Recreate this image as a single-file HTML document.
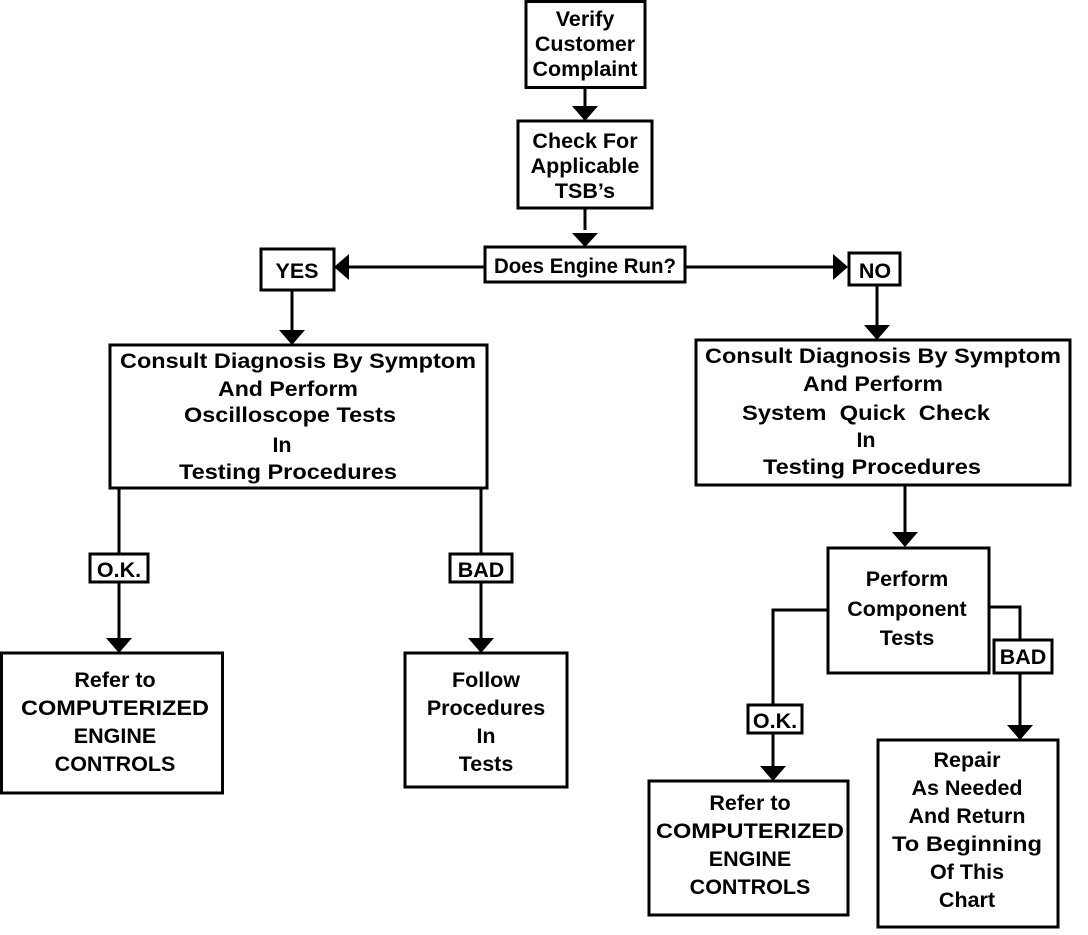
<!DOCTYPE html>
<html><head><style>
body{margin:0;background:#fff;}
svg text{font-family:"Liberation Sans",Arial,sans-serif;font-weight:bold;font-size:21.5px;fill:#000;text-anchor:middle;white-space:pre;}
</style></head><body>
<svg width="1088" height="930" viewBox="0 0 1088 930" xmlns="http://www.w3.org/2000/svg">
<g fill="none" stroke="#000" stroke-width="3">
<rect x="526" y="1.5" width="119" height="86"/>
<rect x="518" y="121" width="134" height="87"/>
<rect x="485" y="247" width="200" height="35"/>
<rect x="261" y="249" width="73" height="41"/>
<rect x="849" y="253" width="51" height="32"/>
<rect x="110" y="345" width="377" height="143"/>
<rect x="696" y="340" width="374" height="145"/>
<rect x="90" y="554" width="58" height="28"/>
<rect x="450" y="554" width="62" height="28"/>
<rect x="1.5" y="653" width="221" height="140"/>
<rect x="405" y="653" width="162" height="134"/>
<rect x="828" y="548" width="161" height="125"/>
<rect x="748" y="705" width="54" height="28"/>
<rect x="994" y="640" width="58" height="33"/>
<rect x="649" y="781" width="199" height="134"/>
<rect x="878" y="740" width="180" height="187"/>
<path d="M585 88V108 M585 208V230 M485 267H345 M685 267H836 M292 290V330 M877 285V325 M119 488V554 M119 582V638 M481 488V554 M481 582V638 M905 485V532 M828 610H773V705 M773 733V766 M989 607H1020V640 M1020 673V725"/>
</g>
<g fill="#000">
<path d="M572 106H598L585 121Z M572 233H598L585 247Z M334 267L349 254V280Z M848 267L833 254V280Z M279 330H305L292 345Z M864 325H890L877 340Z M106 638H132L119 653Z M468 638H494L481 653Z M892 532H918L905 547Z M760 766H786L773 781Z M1007 725H1033L1020 740Z"/>
</g>
<text x="585" y="26">Verify</text><text x="585" y="51">Customer</text><text x="585" y="76">Complaint</text>
<text x="585" y="148">Check For</text><text x="585" y="173">Applicable</text><text x="585" y="198">TSB’s</text>
<text x="585" y="273" textLength="182" lengthAdjust="spacingAndGlyphs">Does Engine Run?</text>
<text x="297" y="278">YES</text>
<text x="875" y="278">NO</text>
<text x="298" y="368" textLength="356" lengthAdjust="spacingAndGlyphs">Consult Diagnosis By Symptom</text>
<text x="288" y="396" textLength="140" lengthAdjust="spacingAndGlyphs">And Perform</text>
<text x="290" y="422" textLength="212" lengthAdjust="spacingAndGlyphs">Oscilloscope Tests</text>
<text x="282" y="452">In</text>
<text x="288" y="479" textLength="218" lengthAdjust="spacingAndGlyphs">Testing Procedures</text>
<text x="883" y="363" textLength="356" lengthAdjust="spacingAndGlyphs">Consult Diagnosis By Symptom</text>
<text x="873" y="391" textLength="140" lengthAdjust="spacingAndGlyphs">And Perform</text>
<text x="866" y="420" textLength="248" lengthAdjust="spacingAndGlyphs">System  Quick  Check</text>
<text x="866" y="447">In</text>
<text x="872" y="474" textLength="218" lengthAdjust="spacingAndGlyphs">Testing Procedures</text>
<text x="119" y="577">O.K.</text>
<text x="481" y="577">BAD</text>
<text x="115" y="687">Refer to</text><text x="115" y="715" textLength="188" lengthAdjust="spacingAndGlyphs">COMPUTERIZED</text><text x="115" y="743">ENGINE</text><text x="115" y="771">CONTROLS</text>
<text x="486" y="687">Follow</text><text x="486" y="715">Procedures</text><text x="486" y="743">In</text><text x="486" y="771">Tests</text>
<text x="907" y="586">Perform</text><text x="907" y="616">Component</text><text x="907" y="645">Tests</text>
<text x="775" y="728">O.K.</text>
<text x="1023" y="664">BAD</text>
<text x="750" y="810">Refer to</text><text x="750" y="838" textLength="188" lengthAdjust="spacingAndGlyphs">COMPUTERIZED</text><text x="750" y="866">ENGINE</text><text x="750" y="894">CONTROLS</text>
<text x="967" y="767">Repair</text><text x="967" y="795">As Needed</text><text x="967" y="823">And Return</text><text x="967" y="851" textLength="150" lengthAdjust="spacingAndGlyphs">To Beginning</text><text x="967" y="879">Of This</text><text x="967" y="907">Chart</text>
</svg>
</body></html>
